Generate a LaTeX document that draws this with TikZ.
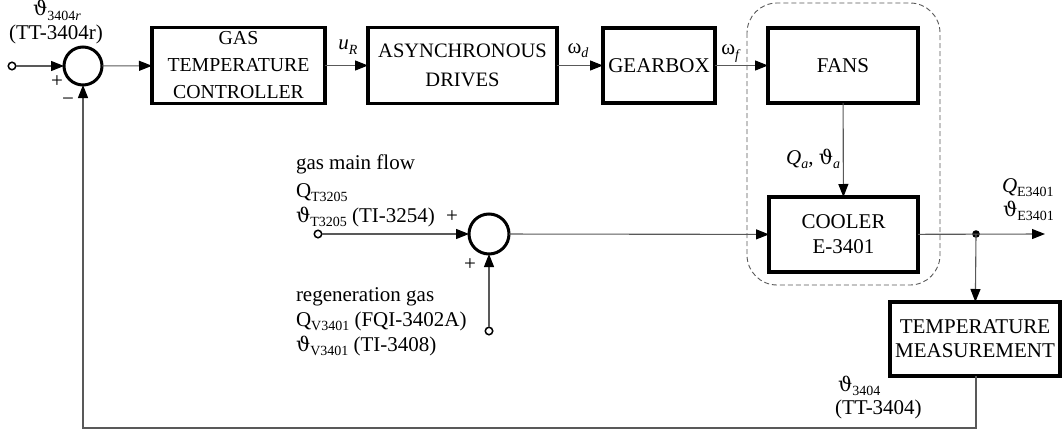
\documentclass[tikz,border=0pt]{standalone}
\usepackage{fontspec}
\setmainfont{Liberation Serif}
\newfontfamily\grk[Scale=0.95]{DejaVu Serif}
\usetikzlibrary{arrows.meta}
\newcommand{\vth}{{\grk ϑ}}
\newcommand{\lo}[1]{\raisebox{-0.22em}{\fontsize{14}{14}\selectfont #1}}
\begin{document}
\begin{tikzpicture}[x=1pt,y=-1pt,
  every node/.style={font=\fontsize{21}{24}\selectfont, inner sep=0pt, outer sep=0pt},
  blk/.style={draw, line width=3.3pt, align=center},
  sumj/.style={draw, circle, line width=3pt, minimum size=38pt},
  term/.style={draw, circle, line width=1.5pt, minimum size=7.5pt, fill=white},
  conn/.style={draw=black!65, line width=1.1pt, -{Triangle[length=13pt,width=10pt,color=black]}},
  lbl/.style={anchor=base west}]
\useasboundingbox (0,0) rectangle (1062,436);

% dashed group
\draw[black!65, line width=0.9pt, dash pattern=on 5pt off 3pt, rounded corners=30pt] (747,3) rectangle (940,285);

% blocks
\node[blk, minimum width=173pt, minimum height=76pt, font=\fontsize{19.8}{27}\selectfont] (ctrl) at (238.5,65.5) {GAS\\TEMPERATURE\\CONTROLLER};
\node[blk, minimum width=189pt, minimum height=76pt, font=\fontsize{20.5}{29}\selectfont] (drv) at (462.5,65.5) {ASYNCHRONOUS\\DRIVES};
\node[blk, minimum width=112pt, minimum height=75pt, font=\fontsize{21}{24}\selectfont] (gear) at (659,65.5) {GEARBOX};
\node[blk, minimum width=150pt, minimum height=75pt, font=\fontsize{21}{24}\selectfont] (fans) at (843,65.5) {FANS};
\node[blk, minimum width=149pt, minimum height=75pt, font=\fontsize{21}{25}\selectfont] (cool) at (843.5,234.5) {COOLER\\E-3401};
\node[blk, minimum width=170pt, minimum height=74pt, font=\fontsize{21}{24}\selectfont] (meas) at (975,339) {TEMPERATURE\\MEASUREMENT};

% junctions and terminals
\node[sumj] (s1) at (83,66) {};
\node[sumj, minimum size=40pt] (s2) at (489,234) {};
\node[term] (in1) at (12,66) {};
\node[term] (in2) at (318,234) {};
\node[term] (in3) at (489,331) {};
\coordinate (out) at (1045,234);
\coordinate (br) at (976,428);
\coordinate (bl) at (83,428);
\fill (976,234) circle (3.8pt) coordinate (dot);

% connectors
\draw[conn] (in1) -- (s1);
\draw[conn] (s1) -- (ctrl);
\draw[conn] (ctrl) -- (drv);
\draw[conn] (drv) -- (gear);
\draw[conn] (gear) -- (fans);
\draw[conn] (fans) -- (cool);
\draw[conn] (in2) -- (s2);
\draw[conn] (in3) -- (s2);
\draw[conn] (s2) -- (cool);
\draw[conn] (cool) -- (out);
\draw[conn] (dot) -- (meas);
\draw[conn] (meas.south -| dot) -- (br) -- (bl) -- (s1);

% labels
\node[anchor=base] (l1) at (57,16) {\vth\lo{3404\textit{r}}};
\node[anchor=base] (l2) at (56,40) {(TT-3404r)};
\node (p1) at (57,82) {+};
\node (m1) at (68,102) {−};
\node[anchor=base] (lu) at (348,50) {\textit{u}\lo{\textit{R}}};
\node[anchor=base] (lwd) at (578,53) {ω\lo{\textit{d}}};
\node[anchor=base] (lwf) at (731,55) {ω\lo{\textit{f}}};
\node[anchor=base east] (lqa) at (840,164) {\textit{Q}\lo{\textit{a}}, \vth\lo{\textit{a}}};
\node[lbl] (g1) at (296,169) {gas main flow};
\node[lbl] (g2) at (296,197) {Q\lo{T3205}};
\node[lbl] (g3) at (296,222) {\vth\lo{T3205} (TI-3254)};
\node (p2) at (452,217) {+};
\node (p3) at (470,265) {+};
\node[lbl] (r1) at (296,301) {regeneration gas};
\node[lbl] (r2) at (296,326) {Q\lo{V3401} (FQI-3402A)};
\node[lbl] (r3) at (296,351) {\vth\lo{V3401} (TI-3408)};
\node[lbl] (o1) at (1002,192) {\textit{Q}\lo{E3401}};
\node[lbl] (o2) at (1003,216) {\vth\lo{E3401}};
\node[lbl] (f1) at (838,391) {\vth\lo{3404}};
\node[lbl] (f2) at (835,414) {(TT-3404)};
\end{tikzpicture}
\end{document}
